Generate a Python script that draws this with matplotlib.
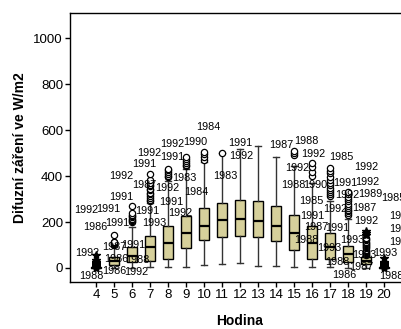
import matplotlib
matplotlib.use("Agg")
import matplotlib.pyplot as plt

plt.rcParams['font.family'] = ['Liberation Sans', 'DejaVu Sans']

# box statistics per hour (W/m2)
hours = list(range(4, 21))
q1 =     [0,  15, 26, 32, 39,  87, 121, 134, 139, 134, 117, 78,  39,  39,  26, 17, 0]
median = [1,  30, 54, 91, 110, 154, 182, 208, 212, 203, 182, 152, 108, 91,  60, 32, 1]
q3 =     [3,  48, 92, 140, 182, 225, 260, 281, 294, 290, 268, 229, 182, 151, 97, 50, 3]
wlo =    [0,  0,  0,  3,  3,   4,  15,  17,  22,  10,  8,   5,   4,   3,   2,  0,  0]
whi =    [5,  92, 180, 285, 380, 432, 462, 500, 520, 532, 485, 445, 372, 290, 212, 54, 5]

# outliers (open circles) and extremes (stars)
outliers = {
    5: [100, 104, 108, 112, 115, 143],
    6: [200, 205, 210, 215, 220, 226, 232, 240, 268],
    7: [292, 298, 305, 312, 320, 328, 338, 345, 355, 362, 372, 382, 411],
    8: [395, 402, 410, 418, 425, 433],
    9: [442, 450, 458, 466, 474, 485],
    10: [472, 484, 495, 506],
    11: [502],
    15: [494, 502, 508],
    16: [402, 418, 438, 459],
    17: [312, 320, 330, 340, 350, 362, 372, 385, 398, 412, 424, 437],
    18: [230, 238, 246, 254, 262, 270, 280, 290, 300, 310, 320, 330],
    19: [55, 60, 65, 70, 75, 80, 85, 90, 95, 100, 105, 110, 115, 120, 125, 130],
}
extremes = {
    4: [2, 5, 8, 11, 14, 17, 20, 24, 28, 33, 58],
    19: [142, 152, 160],
    20: [2, 5, 8, 11, 14, 17, 20, 24, 42],
}

# case labels (years) next to the outliers
label_x = [3.44, 4.67, 3.94, 5.17, 3.5, 5.0, 6.06, 5.11, 6.28, 3.72, 5.0, 6.22,
           6.83, 7.22, 5.39, 5.39, 6.67, 6.67, 7.94, 8.17, 8.67, 8.22, 8.89,
           6.94, 8.22, 9.5, 10.22, 9.56, 12.0, 12.06, 11.17,
           14.28, 15.67, 16.06, 17.61, 15.17, 14.94, 16.17, 15.94,
           19.0, 17.83, 19.06, 17.94, 19.22, 20.5, 17.28, 18.89, 19.0,
           17.39, 16.0, 16.22, 15.67, 16.94, 18.22, 18.89, 20.06,
           17.39, 18.72, 17.78, 20.39, 20.94, 20.94, 20.94]
label_y = [252, 257, 178, 196, 65, 91, 100, 39, 35, -35, -13, -17,
           248, 196, 400, 309, 452, 361, 348, 287, 239, 483, 391,
           500, 539, 548, 613, 330, 543, 487, 400,
           535, 552, 496, 483, 435, 361, 361, 291,
           439, 370, 374, 317, 322, 304, 257, 261, 204,
           174, 226, 178, 122, 87, 122, 57, 65,
           26, 4, -30, -35, 226, 170, 113]
label_text = ['1992', '1991', '1986', '1991', '1992', '1987', '1991', '1986', '1988', '1988', '1986', '1992',
              '1991', '1993', '1992', '1991', '1991', '1987', '1992', '1991', '1992', '1991', '1983',
              '1992', '1992', '1990', '1984', '1984', '1991', '1992', '1983',
              '1987', '1988', '1992', '1985', '1992', '1988', '1990', '1985',
              '1992', '1991', '1992', '1992', '1989', '1985', '1992', '1987', '1992',
              '1991', '1991', '1987', '1988', '1993', '1993', '1993', '1993',
              '1988', '1987', '1986', '1988', '1992', '1987', '1993']

fig = plt.figure(figsize=(4.02, 3.29), dpi=100)
ax = fig.add_axes([70 / 402, 47 / 329, 340 / 402, 269 / 329])

stats = []
for i, h in enumerate(hours):
    stats.append({'med': median[i], 'q1': q1[i], 'q3': q3[i],
                  'whislo': wlo[i], 'whishi': whi[i], 'fliers': []})

ax.bxp(stats, positions=hours, widths=0.6, capwidths=0.3, patch_artist=True,
       showfliers=False,
       boxprops=dict(facecolor='#d6d09b', edgecolor='black', linewidth=1),
       medianprops=dict(color='black', linewidth=1.6),
       whiskerprops=dict(color='#333333', linewidth=1),
       capprops=dict(color='#333333', linewidth=1))

for h, vals in outliers.items():
    ax.plot([h] * len(vals), vals, 'o', markersize=4.5, markerfacecolor='white',
            markeredgecolor='black', markeredgewidth=0.9, zorder=3)
for h, vals in extremes.items():
    ax.plot([h] * len(vals), vals, '*', markersize=6, color='black', zorder=3)

for x, y, t in zip(label_x, label_y, label_text):
    ax.text(x, y, t, fontsize=7.8, ha='center', va='center', zorder=4)

ax.set_xlim(2.556, 21.444)
ax.set_ylim(-61, 1110)
ax.set_xticks(hours)
ax.set_xticklabels([str(h) for h in hours])
ax.set_yticks([0, 200, 400, 600, 800, 1000])
ax.tick_params(direction='out', length=3.5, width=1, labelsize=9.5, pad=1.5)
for s in ax.spines.values():
    s.set_linewidth(1)

ax.set_xlabel('Hodina', fontsize=10, fontweight='bold')
ax.set_ylabel('Difuzní záření ve W/m2', fontsize=10, fontweight='bold')
ax.xaxis.set_label_coords(0.5, -0.12)
ax.yaxis.set_label_coords(-0.126, 0.5)

fig.savefig('out.png', dpi=100)
